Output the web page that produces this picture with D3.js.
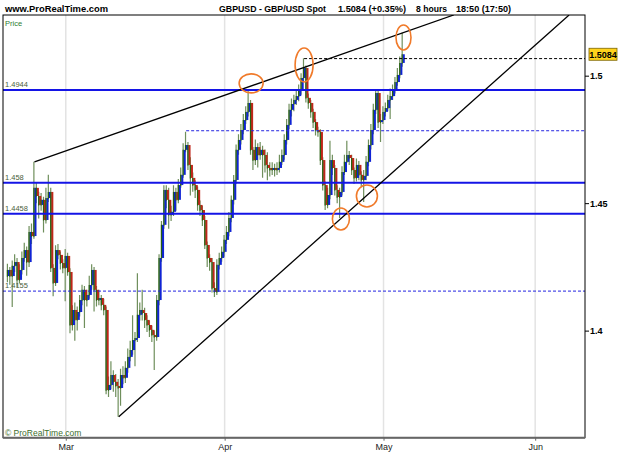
<!DOCTYPE html>
<html>
<head>
<meta charset="utf-8">
<script src="https://cdn.jsdelivr.net/npm/d3@7"></script>
<style>
  body { margin: 0; background: #fff; }
  svg { display: block; font-family: "Liberation Sans", Arial, sans-serif; }
</style>
</head>
<body>
<div id="chart"></div>
<script>
// GBPUSD 8 hour candles, from 18 Feb 2009 (3 bars per trading day)
const startDate = "2009-02-18";
const barsPerDay = 3;

const opens = [
  1.4214, 1.4238, 1.4214, 1.4254, 1.4269, 1.4199, 1.4238, 1.4285, 1.4316, 1.4269,
  1.4387, 1.4371, 1.4560, 1.4528, 1.4493, 1.4513, 1.4434, 1.4520, 1.4544, 1.4246,
  1.4187, 1.4316, 1.4297, 1.4265, 1.4246, 1.4293, 1.4230, 1.4022, 1.4081, 1.4042,
  1.4073, 1.4120, 1.4160, 1.4120, 1.4140, 1.4179, 1.4238, 1.4160, 1.4120, 1.4128,
  1.4101, 1.4081, 1.3767, 1.3787, 1.3826, 1.3799, 1.3783, 1.3775, 1.3826, 1.3815,
  1.3854, 1.3897, 1.3924, 1.3963, 1.3971, 1.4062, 1.4081, 1.4069, 1.4042, 1.4022,
  1.4003, 1.3983, 1.3975, 1.4120, 1.4285, 1.4415, 1.4552, 1.4513, 1.4454, 1.4466,
  1.4544, 1.4513, 1.4571, 1.4611, 1.4709, 1.4728, 1.4650, 1.4599, 1.4571, 1.4552,
  1.4493, 1.4473, 1.4434, 1.4336, 1.4285, 1.4269, 1.4167, 1.4152, 1.4258, 1.4285,
  1.4309, 1.4356, 1.4387, 1.4442, 1.4513, 1.4591, 1.4709, 1.4748, 1.4787, 1.4826,
  1.4858, 1.4893, 1.4709, 1.4669, 1.4720, 1.4689, 1.4709, 1.4689, 1.4650, 1.4638,
  1.4630, 1.4638, 1.4630, 1.4638, 1.4662, 1.4689, 1.4748, 1.4807, 1.4866, 1.4889,
  1.4905, 1.4920, 1.4944, 1.4991, 1.5030, 1.4913, 1.4893, 1.4858, 1.4818, 1.4787,
  1.4779, 1.4669, 1.4571, 1.4493, 1.4532, 1.4669, 1.4638, 1.4552, 1.4524, 1.4544,
  1.4622, 1.4662, 1.4689, 1.4677, 1.4630, 1.4599, 1.4650, 1.4611, 1.4591, 1.4607,
  1.4662, 1.4728, 1.4787, 1.4866, 1.4932, 1.4818, 1.4826, 1.4858, 1.4873, 1.4905,
  1.4920, 1.4944, 1.4975, 1.5003, 1.5050
];
const highs = [
  1.4262, 1.4250, 1.4275, 1.4300, 1.4285, 1.4260, 1.4310, 1.4345, 1.4330, 1.4410,
  1.4420, 1.4662, 1.4580, 1.4545, 1.4540, 1.4525, 1.4560, 1.4611, 1.4560, 1.4260,
  1.4335, 1.4340, 1.4310, 1.4280, 1.4320, 1.4305, 1.4245, 1.4100, 1.4110, 1.4095,
  1.4140, 1.4180, 1.4175, 1.4160, 1.4215, 1.4260, 1.4250, 1.4175, 1.4160, 1.4140,
  1.4125, 1.4095, 1.3820, 1.3880, 1.3845, 1.3830, 1.3810, 1.3850, 1.3860, 1.3880,
  1.3930, 1.3960, 1.4060, 1.3995, 1.4225, 1.4110, 1.4160, 1.4090, 1.4060, 1.4040,
  1.4020, 1.4000, 1.4140, 1.4300, 1.4430, 1.4570, 1.4570, 1.4560, 1.4490, 1.4570,
  1.4560, 1.4595, 1.4640, 1.4735, 1.4780, 1.4740, 1.4680, 1.4620, 1.4590, 1.4565,
  1.4510, 1.4490, 1.4450, 1.4350, 1.4300, 1.4285, 1.4190, 1.4280, 1.4305, 1.4330,
  1.4375, 1.4410, 1.4465, 1.4530, 1.4610, 1.4730, 1.4770, 1.4810, 1.4850, 1.4880,
  1.4944, 1.4905, 1.4720, 1.4750, 1.4735, 1.4740, 1.4725, 1.4710, 1.4700, 1.4660,
  1.4660, 1.4655, 1.4660, 1.4690, 1.4710, 1.4770, 1.4830, 1.4890, 1.4910, 1.4925,
  1.4945, 1.4965, 1.5010, 1.5068, 1.5040, 1.4930, 1.4905, 1.4870, 1.4830, 1.4800,
  1.4790, 1.4680, 1.4585, 1.4560, 1.4745, 1.4690, 1.4650, 1.4570, 1.4560, 1.4645,
  1.4690, 1.4745, 1.4705, 1.4690, 1.4640, 1.4675, 1.4665, 1.4625, 1.4630, 1.4685,
  1.4750, 1.4810, 1.4890, 1.4944, 1.4944, 1.4850, 1.4880, 1.4895, 1.4925, 1.4950,
  1.4965, 1.4995, 1.5030, 1.5075, 1.5168
];
const lows = [
  1.4190, 1.4180, 1.4093, 1.4230, 1.4170, 1.4185, 1.4220, 1.4270, 1.4215, 1.4250,
  1.4340, 1.4360, 1.4500, 1.4440, 1.4470, 1.4385, 1.4420, 1.4505, 1.4230, 1.4135,
  1.4175, 1.4280, 1.4240, 1.4225, 1.4115, 1.4215, 1.3990, 1.4000, 1.3960, 1.4000,
  1.4055, 1.4100, 1.4010, 1.4095, 1.4125, 1.4160, 1.4075, 1.4095, 1.4100, 1.4080,
  1.4060, 1.3750, 1.3740, 1.3770, 1.3760, 1.3740, 1.3662, 1.3705, 1.3790, 1.3795,
  1.3835, 1.3880, 1.3905, 1.3860, 1.3955, 1.4040, 1.4040, 1.4010, 1.3995, 1.3975,
  1.3955, 1.3846, 1.3960, 1.4100, 1.4270, 1.4400, 1.4480, 1.4400, 1.4430, 1.4450,
  1.4470, 1.4500, 1.4560, 1.4600, 1.4700, 1.4630, 1.4530, 1.4545, 1.4520, 1.4470,
  1.4450, 1.4410, 1.4320, 1.4250, 1.4235, 1.4150, 1.4132, 1.4140, 1.4240, 1.4270,
  1.4290, 1.4340, 1.4370, 1.4425, 1.4495, 1.4575, 1.4690, 1.4730, 1.4770, 1.4810,
  1.4840, 1.4690, 1.4630, 1.4650, 1.4640, 1.4670, 1.4600, 1.4620, 1.4590, 1.4605,
  1.4610, 1.4605, 1.4610, 1.4620, 1.4650, 1.4670, 1.4730, 1.4790, 1.4840, 1.4860,
  1.4885, 1.4900, 1.4925, 1.4975, 1.4895, 1.4870, 1.4835, 1.4795, 1.4765, 1.4760,
  1.4650, 1.4550, 1.4473, 1.4480, 1.4515, 1.4610, 1.4530, 1.4500, 1.4442, 1.4530,
  1.4610, 1.4660, 1.4650, 1.4610, 1.4575, 1.4585, 1.4590, 1.4565, 1.4505, 1.4590,
  1.4645, 1.4710, 1.4770, 1.4850, 1.4795, 1.4740, 1.4810, 1.4840, 1.4860, 1.4830,
  1.4905, 1.4930, 1.4960, 1.4990, 1.5035
];
const closes = [
  1.4238, 1.4214, 1.4254, 1.4269, 1.4199, 1.4238, 1.4285, 1.4316, 1.4269, 1.4387,
  1.4371, 1.4560, 1.4528, 1.4493, 1.4513, 1.4434, 1.4520, 1.4544, 1.4246, 1.4187,
  1.4316, 1.4297, 1.4265, 1.4246, 1.4293, 1.4230, 1.4022, 1.4081, 1.4042, 1.4073,
  1.4120, 1.4160, 1.4120, 1.4140, 1.4179, 1.4238, 1.4160, 1.4120, 1.4128, 1.4101,
  1.4081, 1.3767, 1.3787, 1.3826, 1.3799, 1.3783, 1.3775, 1.3826, 1.3815, 1.3854,
  1.3897, 1.3924, 1.3963, 1.3971, 1.4062, 1.4081, 1.4069, 1.4042, 1.4022, 1.4003,
  1.3983, 1.3975, 1.4120, 1.4285, 1.4415, 1.4552, 1.4513, 1.4454, 1.4466, 1.4544,
  1.4513, 1.4571, 1.4611, 1.4709, 1.4728, 1.4650, 1.4599, 1.4571, 1.4552, 1.4493,
  1.4473, 1.4434, 1.4336, 1.4285, 1.4269, 1.4167, 1.4152, 1.4258, 1.4285, 1.4309,
  1.4356, 1.4387, 1.4442, 1.4513, 1.4591, 1.4709, 1.4748, 1.4787, 1.4826, 1.4858,
  1.4893, 1.4709, 1.4669, 1.4720, 1.4689, 1.4709, 1.4689, 1.4650, 1.4638, 1.4630,
  1.4638, 1.4630, 1.4638, 1.4662, 1.4689, 1.4748, 1.4807, 1.4866, 1.4889, 1.4905,
  1.4920, 1.4944, 1.4991, 1.5030, 1.4913, 1.4893, 1.4858, 1.4818, 1.4787, 1.4779,
  1.4669, 1.4571, 1.4493, 1.4532, 1.4669, 1.4638, 1.4552, 1.4524, 1.4544, 1.4622,
  1.4662, 1.4689, 1.4677, 1.4630, 1.4599, 1.4650, 1.4611, 1.4591, 1.4607, 1.4662,
  1.4728, 1.4787, 1.4866, 1.4932, 1.4818, 1.4826, 1.4858, 1.4873, 1.4905, 1.4920,
  1.4944, 1.4975, 1.5003, 1.5050, 1.5084
];

const yTicks = [1.4, 1.45, 1.5];
const monthLabels = ["Mar", "Apr", "May", "Jun"];
const lastPrice = 1.5084;
const titleParts = ["GBPUSD - GBP/USD Spot", "1.5084 (+0.35%)", "8 hours", "18:50 (17:50)"];

// horizontal support / resistance levels
const solidLevels = [1.4944, 1.458, 1.4458];
const solidLabels = ["1.4944", "1.458", "1.4458"];
const dottedLevels = [1.4784, 1.4155, 1.5067];
const dottedFromBar = [74, null, 123];
const dottedLabels = ["", "1.4155", ""];

// trend lines, two anchors each: [bar, price]
const upperTrend = [[11, 1.4662], [164, 1.5168]];
const lowerTrend = [[46, 1.3662], [138, 1.4437]];

// circled touches: bar and price of centre
const circleBars = [101, 123, 164.3, 138.3, 149.1];
const circlePrices = [1.4970, 1.5042, 1.5150, 1.4438, 1.4528];


// ---------- layout ----------
const W = 625, H = 469;
const plot = { left: 3, right: 585, top: 15, bottom: 437.7 };
const circleRx = [12, 9, 7.5, 8.5, 10.5];
const circleRy = [9.5, 17, 12.5, 11, 11];

const svg = d3.select("#chart").append("svg")
  .attr("width", W)
  .attr("height", H);

const x = d3.scaleLinear().domain([-2.08, 239.7]).range([plot.left, plot.right]);
const y = d3.scaleLinear().domain([1.3580, 1.5238]).range([plot.bottom, plot.top]);

// trading calendar -> first bar of each month
function tradingBars(n) {
  const out = [];
  const d = new Date(startDate + "T00:00:00Z");
  while (out.length < n) {
    const wd = d.getUTCDay();
    if (wd !== 0 && wd !== 6) {
      for (let k = 0; k < barsPerDay; k++) out.push(new Date(d));
    }
    d.setUTCDate(d.getUTCDate() + 1);
  }
  return out;
}
const dates = tradingBars(240);
const fmtMonth = d3.utcFormat("%b");
const monthBars = monthLabels.map(m => dates.findIndex(d => fmtMonth(d) === m));

svg.append("defs").append("clipPath").attr("id", "plotclip")
  .append("rect")
  .attr("x", plot.left).attr("y", plot.top)
  .attr("width", plot.right - plot.left).attr("height", plot.bottom - plot.top);

// month grid lines
svg.append("g").selectAll("line")
  .data(monthBars)
  .join("line")
  .attr("x1", d => x(d)).attr("x2", d => x(d))
  .attr("y1", plot.top).attr("y2", plot.bottom)
  .attr("stroke", "#e3e3e3")
  .attr("stroke-width", 1.5);

// header
svg.append("text")
  .attr("x", 5).attr("y", 12)
  .attr("textLength", 103).attr("lengthAdjust", "spacingAndGlyphs")
  .style("font-size", "9.3px").style("font-weight", "bold")
  .text("www.ProRealTime.com");

const titleX = [219, 338, 416, 456];
const titleW = [107, 68, 31, 55];
titleParts.forEach((t, i) => {
  svg.append("text")
    .attr("x", titleX[i]).attr("y", 12)
    .attr("textLength", titleW[i]).attr("lengthAdjust", "spacingAndGlyphs")
    .style("font-size", "8.7px").style("font-weight", "bold")
    .text(t);
});

svg.append("text").attr("x", 5).attr("y", 25.5)
  .style("font-size", "7.5px").attr("fill", "#2e7d32").text("Price");

// candles: light shadow, coloured body, dark green edge on the left
const cg = svg.append("g").attr("clip-path", "url(#plotclip)");
const bars = d3.range(closes.length);

cg.selectAll("line.wick")
  .data(bars)
  .join("line")
  .attr("class", "wick")
  .attr("x1", i => x(i) - 0.6).attr("x2", i => x(i) - 0.6)
  .attr("y1", i => y(highs[i])).attr("y2", i => y(lows[i]))
  .attr("stroke", "#6f8f5c")
  .attr("stroke-width", 1.2);

cg.selectAll("rect.body")
  .data(bars)
  .join("rect")
  .attr("class", "body")
  .attr("x", i => x(i) - 0.2)
  .attr("width", 2.2)
  .attr("y", i => y(Math.max(opens[i], closes[i])))
  .attr("height", i => Math.max(1, Math.abs(y(opens[i]) - y(closes[i]))))
  .attr("fill", i => closes[i] >= opens[i] ? "#1024d4" : "#c0261a");

cg.selectAll("line.edge")
  .data(bars)
  .join("line")
  .attr("class", "edge")
  .attr("x1", i => x(i) - 0.6).attr("x2", i => x(i) - 0.6)
  .attr("y1", i => y(Math.max(opens[i], closes[i])))
  .attr("y2", i => y(Math.min(opens[i], closes[i])) + 0.6)
  .attr("stroke", "#266010")
  .attr("stroke-width", 1.2);

// levels
const lg = svg.append("g").attr("clip-path", "url(#plotclip)");
solidLevels.forEach((p, i) => {
  lg.append("line")
    .attr("x1", plot.left).attr("x2", plot.right)
    .attr("y1", y(p)).attr("y2", y(p))
    .attr("stroke", "#1414e6").attr("stroke-width", 2);
  svg.append("text")
    .attr("x", 5).attr("y", y(p) - 3)
    .style("font-size", "7.5px").attr("fill", "#4b5e3c")
    .text(solidLabels[i]);
});

const dottedColors = ["#2424e0", "#2424e0", "#000"];
dottedLevels.forEach((p, i) => {
  const x0 = dottedFromBar[i] === null ? plot.left : x(dottedFromBar[i]);
  lg.append("line")
    .attr("x1", x0).attr("x2", plot.right)
    .attr("y1", y(p)).attr("y2", y(p))
    .attr("stroke", dottedColors[i]).attr("stroke-width", 1)
    .attr("stroke-dasharray", "3,2");
  if (dottedLabels[i]) {
    svg.append("text")
      .attr("x", 5).attr("y", y(p) - 3)
      .style("font-size", "7.5px").attr("fill", "#4b5e3c")
      .text(dottedLabels[i]);
  }
});

// trend lines, extended to the top of the plot
function trendLine(anchors) {
  const [a, b] = anchors;
  const x1 = x(a[0]), y1 = y(a[1]), x2 = x(b[0]), y2 = y(b[1]);
  const xEnd = x1 + (plot.top - y1) * (x2 - x1) / (y2 - y1);
  lg.append("line")
    .attr("x1", x1).attr("y1", y1)
    .attr("x2", xEnd).attr("y2", plot.top)
    .attr("stroke", "#000").attr("stroke-width", 1.3);
}
trendLine(upperTrend);
trendLine(lowerTrend);

// circles
svg.append("g").selectAll("ellipse")
  .data(circleBars)
  .join("ellipse")
  .attr("cx", (d, i) => x(d))
  .attr("cy", (d, i) => y(circlePrices[i]))
  .attr("rx", (d, i) => circleRx[i])
  .attr("ry", (d, i) => circleRy[i])
  .attr("fill", "none")
  .attr("stroke", "#f07a2a")
  .attr("stroke-width", 1.6);

// frame
svg.append("rect")
  .attr("x", plot.left).attr("y", plot.top)
  .attr("width", plot.right - plot.left).attr("height", plot.bottom - plot.top)
  .attr("fill", "none").attr("stroke", "#000").attr("stroke-width", 1);
svg.append("line")
  .attr("x1", plot.left).attr("x2", plot.right)
  .attr("y1", plot.bottom).attr("y2", plot.bottom)
  .attr("stroke", "#666").attr("stroke-width", 2);

svg.append("text").attr("x", 5).attr("y", 436)
  .style("font-size", "8.5px").attr("fill", "#3d6e2d")
  .text("© ProRealTime.com");

// y axis
const yAxis = svg.append("g")
  .attr("transform", `translate(${plot.right},0)`)
  .call(d3.axisRight(y).tickValues(yTicks).tickFormat(d3.format("")).tickSize(4).tickPadding(1));
yAxis.select(".domain").remove();
yAxis.selectAll("text").style("font-size", "9px").style("font-weight", "bold")
  .style("font-family", "Liberation Sans, Arial, sans-serif").attr("fill", "#000");

// x axis
const xAxis = svg.append("g")
  .attr("transform", `translate(0,${plot.bottom})`)
  .call(d3.axisBottom(x).tickValues(monthBars).tickFormat((d, i) => monthLabels[i]).tickSize(3).tickPadding(3));
xAxis.select(".domain").remove();
xAxis.selectAll("line").attr("stroke", "#666");
xAxis.selectAll("text").style("font-size", "9px")
  .style("font-family", "Liberation Sans, Arial, sans-serif").attr("fill", "#222");

// last price tag
const tag = svg.append("g").attr("transform", `translate(589,${y(lastPrice)})`);
tag.append("rect")
  .attr("x", 0).attr("y", -6).attr("width", 28).attr("height", 12)
  .attr("fill", "#ffd21c").attr("stroke", "#7a6400").attr("stroke-width", 0.8);
tag.append("text")
  .attr("x", 14).attr("y", 3.3).attr("text-anchor", "middle")
  .style("font-size", "9px").style("font-weight", "bold")
  .text(d3.format(".4f")(lastPrice));
</script>
</body>
</html>
